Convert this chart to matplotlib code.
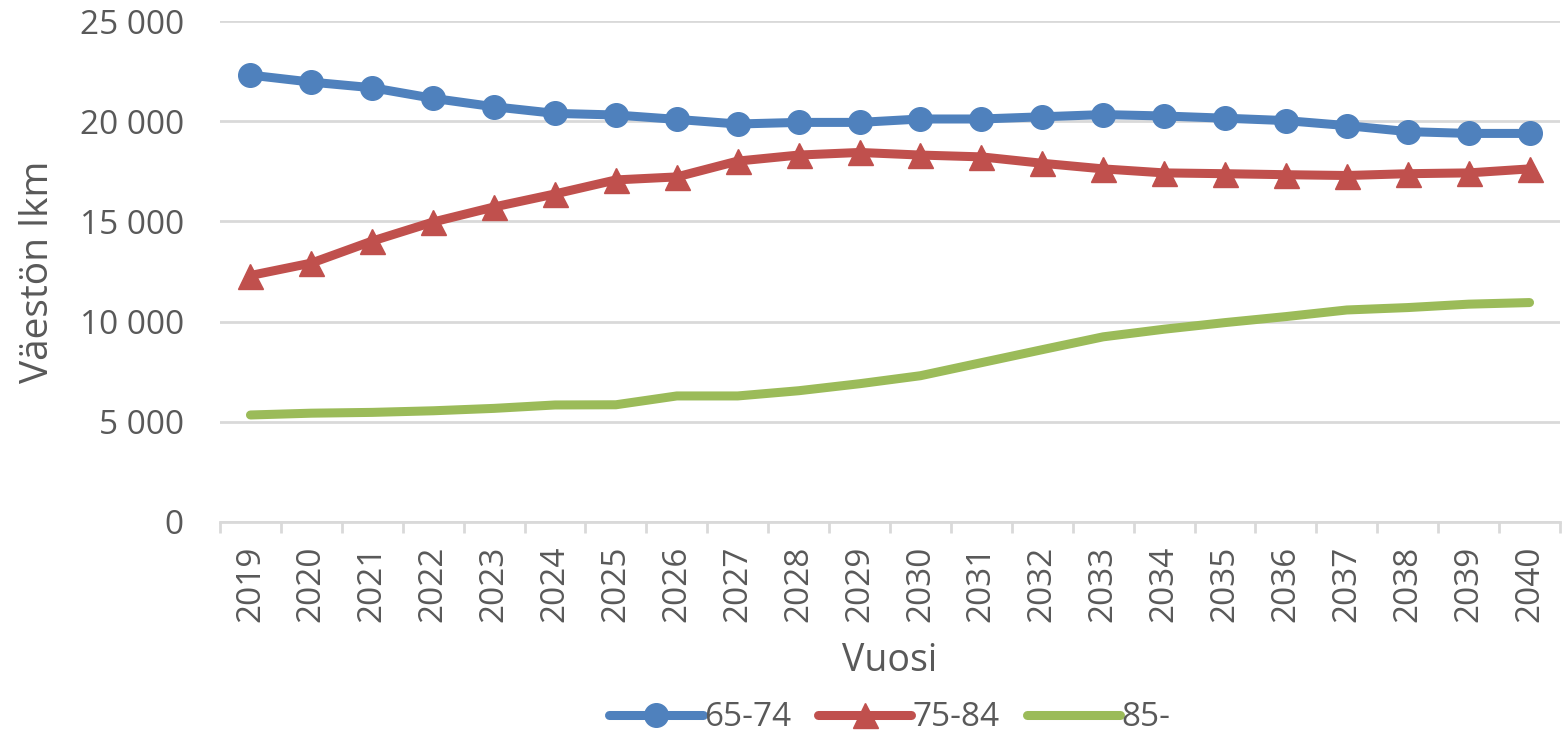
import matplotlib
matplotlib.use("Agg")
import matplotlib.pyplot as plt
from matplotlib.ticker import FuncFormatter, FixedLocator

years = [str(y) for y in range(2019, 2041)]
age_65_74 = [22300, 21950, 21670, 21140, 20720, 20390, 20310, 20090, 19860, 19940,
             19940, 20110, 20110, 20220, 20330, 20260, 20150, 20030, 19780, 19480,
             19390, 19390]
age_75_84 = [12300, 12920, 14020, 14970, 15720, 16370, 17070, 17220, 18010, 18310,
             18440, 18310, 18220, 17900, 17620, 17420, 17380, 17330, 17290, 17380,
             17420, 17620]
age_85 = [5340, 5430, 5470, 5550, 5670, 5840, 5850, 6290, 6290, 6550,
          6900, 7300, 7950, 8600, 9240, 9620, 9950, 10250, 10580, 10700,
          10870, 10950]
series_labels = ["65-74", "75-84", "85-"]
y_ticks = [0, 5000, 10000, 15000, 20000, 25000]

plt.rcParams['font.family'] = ['Open Sans', 'DejaVu Sans']
txt = '#595959'
grid = '#d9d9d9'

fig = plt.figure(figsize=(15.67, 7.45), dpi=100)
ax = fig.add_axes([220/1567, 1-522/745, 1340/1567, 501/745])

x = list(range(len(years)))
ax.plot(x, age_65_74, color='#4F81BD', lw=6.5, marker='o', ms=17,
        solid_joinstyle='round', solid_capstyle='round', label=series_labels[0], zorder=3)
ax.plot(x, age_75_84, color='#C0504D', lw=6.5, marker='^', ms=18,
        solid_joinstyle='round', solid_capstyle='round', label=series_labels[1], zorder=3)
ax.plot(x, age_85, color='#9BBB59', lw=6.5,
        solid_joinstyle='round', solid_capstyle='round', label=series_labels[2], zorder=3)

ax.set_xlim(-0.5, len(years) - 0.5)
ax.set_ylim(0, 25000)
ax.set_yticks(y_ticks)
ax.yaxis.set_major_formatter(FuncFormatter(lambda v, p: f"{int(v):,}".replace(",", " ")))
ax.grid(axis='y', color=grid, lw=2, zorder=0)
ax.set_axisbelow(True)

ax.set_xticks(x)
ax.set_xticklabels(years, rotation=90)
ax.xaxis.set_minor_locator(FixedLocator([i - 0.5 for i in range(len(years) + 1)]))
ax.tick_params(axis='x', which='major', length=0, pad=17, labelsize=24, labelcolor=txt)
ax.tick_params(axis='x', which='minor', length=8, width=2, color=grid, direction='out')
ax.tick_params(axis='y', length=0, pad=26, labelsize=24, labelcolor=txt)

for s in ['top', 'right', 'left']:
    ax.spines[s].set_visible(False)
ax.spines['bottom'].set_color(grid)
ax.spines['bottom'].set_linewidth(2)

ax.set_xlabel("Vuosi", fontsize=27, color=txt, labelpad=14)
ax.set_ylabel("Väestön lkm", fontsize=28, color=txt, labelpad=16)

ax_center = (220 + 1560) / 2 / 1567
leg = fig.legend(loc='center', bbox_to_anchor=(ax_center, 1-718/745), ncol=3, frameon=False,
                 fontsize=24, handlelength=2.8, columnspacing=0.8, handletextpad=0.05,
                 labelcolor=txt)

fig.savefig("out.png", dpi=100)
